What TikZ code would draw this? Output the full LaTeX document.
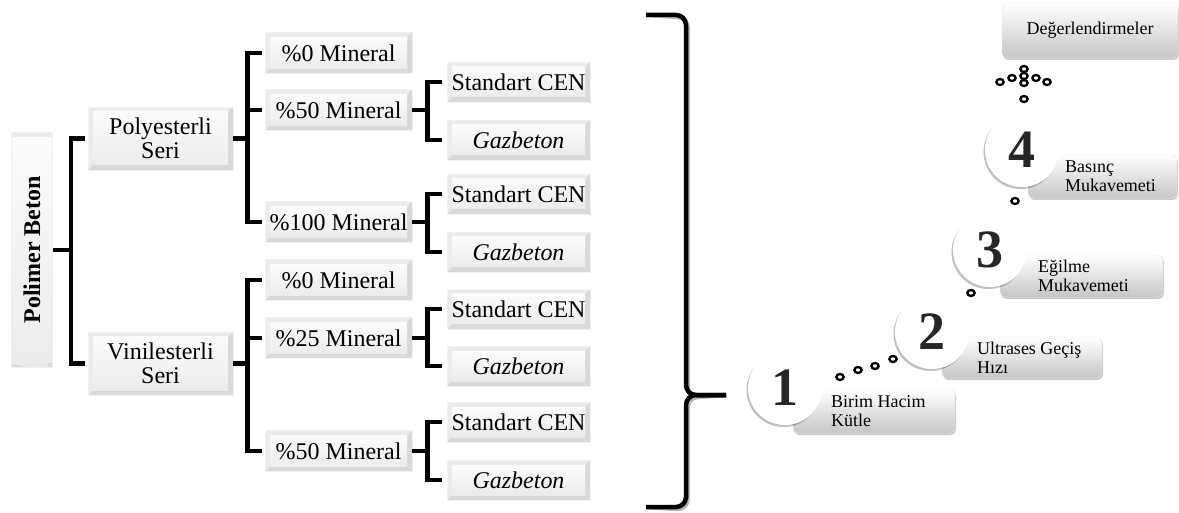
\documentclass[tikz,border=0pt]{standalone}
\usepackage{fontspec}
\setmainfont{Liberation Serif}
\usetikzlibrary{shadows}

\tikzset{
  bevel/.style={inner sep=0pt, align=center, fill=gray!16, draw=gray!10, line width=0.6pt,
    font=\fontsize{24}{24}\selectfont,
    path picture={
      \fill[gray!30] (path picture bounding box.north east) -- (path picture bounding box.south east)
        -- (path picture bounding box.south west) -- ([xshift=5pt,yshift=5pt]path picture bounding box.south west)
        -- ([xshift=-5pt,yshift=5pt]path picture bounding box.south east)
        -- ([xshift=-5pt,yshift=-5pt]path picture bounding box.north east) -- cycle;
      \shade[top color=gray!3, bottom color=gray!15] ([xshift=5pt,yshift=5pt]path picture bounding box.south west)
        rectangle ([xshift=-5pt,yshift=-5pt]path picture bounding box.north east);
    }},
  seri/.style={bevel, minimum width=145pt, minimum height=63pt},
  mineral/.style={bevel, minimum width=147pt, minimum height=41pt},
  sample/.style={bevel, minimum width=143pt, minimum height=40pt},
  brk/.style={line width=4.5pt, shorten >=3pt},
  brace/.style={line width=4.5pt, rounded corners=10pt},
  numcirc/.style={circle, fill=white, minimum size=74pt, inner sep=0pt, text=black!85,
    font=\bfseries\fontsize{54}{54}\selectfont,
    drop shadow={shadow xshift=-1.5pt, shadow yshift=-2pt, opacity=0.25, fill=black}},
  stepbox/.style={rounded corners=5pt, top color=white, bottom color=gray!45, draw=gray!20,
    inner sep=0pt, drop shadow={shadow xshift=1pt, shadow yshift=-2pt, opacity=0.2, fill=black}},
  steptext/.style={anchor=west, align=left, inner sep=0pt, font=\fontsize{18}{19}\selectfont},
  ring/.style={draw=black, line width=2.3pt, fill=white}
}

\begin{document}
\begin{tikzpicture}[x=1pt,y=-1pt]
\useasboundingbox (0,0) rectangle (1179,513);

% left tree
\node[bevel, rotate=90, minimum width=235pt, minimum height=41pt, font=\bfseries\fontsize{24}{24}\selectfont] (pb) at (32,250) {Polimer Beton};
\node[seri] (ps) at (160.5,138.5) {Polyesterli\\Seri};
\node[seri] (vs) at (160.5,363.5) {Vinilesterli\\Seri};

\node[mineral] (m1) at (338.5,53) {\%0 Mineral};
\node[mineral] (m2) at (338.5,110) {\%50 Mineral};
\node[mineral] (m3) at (338.5,222) {\%100 Mineral};
\node[mineral] (m4) at (338.5,280) {\%0 Mineral};
\node[mineral] (m5) at (338.5,338) {\%25 Mineral};
\node[mineral] (m6) at (338.5,451) {\%50 Mineral};

\node[sample] (s1) at (518.5,82) {Standart CEN};
\node[sample] (g1) at (518.5,140) {\textit{Gazbeton}};
\node[sample] (s2) at (518.5,194) {Standart CEN};
\node[sample] (g2) at (518.5,252) {\textit{Gazbeton}};
\node[sample] (s3) at (518.5,309) {Standart CEN};
\node[sample] (g3) at (518.5,366) {\textit{Gazbeton}};
\node[sample] (s4) at (518.5,422) {Standart CEN};
\node[sample] (g4) at (518.5,480) {\textit{Gazbeton}};

\foreach \b in {ps,vs}
  \draw[brk] (pb.south) -- ++(18,0) |- (\b.west);
\foreach \a/\b in {ps/m1, ps/m2, ps/m3, vs/m4, vs/m5, vs/m6}
  \draw[brk] (\a.east) -- ++(14,0) |- (\b.west);
\foreach \a/\b in {m2/s1, m2/g1, m3/s2, m3/g2, m5/s3, m5/g3, m6/s4, m6/g4}
  \draw[brk, shorten >=5pt] (\a.east) -- ++(15,0) |- (\b.west);

% big brace
\coordinate (btop) at (646,15);
\coordinate (btip) at (726,395);
\coordinate (bbot) at (646,507);
\begin{scope}[gray!60, shift={(1.5,2.5)}]
  \draw[brace] (btop) -- (686,15) -- (686,395) -- (btip);
  \draw[brace] (btip) -- (686,395) -- (686,507) -- (bbot);
\end{scope}
\draw[brace] (btop) -- (686,15) -- (686,395) -- (btip);
\draw[brace] (btip) -- (686,395) -- (686,507) -- (bbot);

% steps
\node[stepbox, minimum width=176pt, minimum height=55pt, font=\fontsize{18}{19}\selectfont] (de) at (1090,30.5) {Değerlendirmeler};

\node[stepbox, minimum width=162pt, minimum height=43pt] (l1) at (874,411.5) {};
\node[stepbox, minimum width=160pt, minimum height=41pt] (l2) at (1022,357.5) {};
\node[stepbox, minimum width=163pt, minimum height=42pt] (l3) at (1081.5,276) {};
\node[stepbox, minimum width=149pt, minimum height=43pt] (l4) at (1102.5,176.5) {};

\node[steptext] (t1) at ([xshift=38pt]l1.west) {Birim Hacim\\Kütle};
\node[steptext] (t2) at ([xshift=35pt]l2.west) {Ultrases Geçiş\\Hızı};
\node[steptext] (t3) at ([xshift=38pt]l3.west) {Eğilme\\Mukavemeti};
\node[steptext] (t4) at ([xshift=37pt]l4.west) {Basınç\\Mukavemeti};

\node[numcirc] (c1) at (785,388) {1};
\node[numcirc] (c2) at (932,332) {2};
\node[numcirc] (c3) at (990,250) {3};
\node[numcirc] (c4) at (1022,150) {4};

% dots
\foreach \x/\y in {840/377, 858/370, 875/366, 893/359, 971/293, 1015/201,
                   1000/82, 1012/78, 1024/69, 1024/76, 1024/83, 1036/78, 1047/82, 1024/99}
  \draw[ring] (\x,\y) circle[x radius=3.6pt, y radius=3pt];
\end{tikzpicture}
\end{document}
